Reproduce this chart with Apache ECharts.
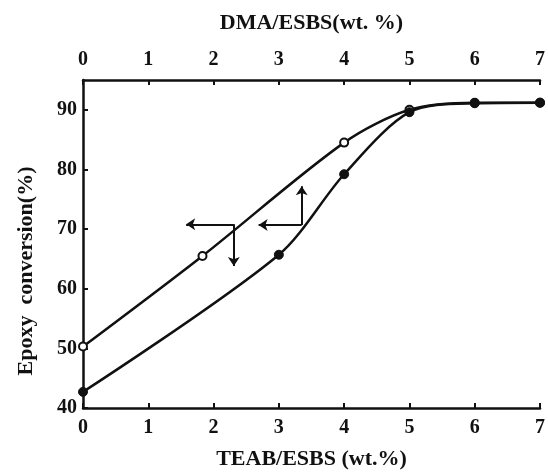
<!DOCTYPE html>
<html>
<head>
<meta charset="utf-8">
<script src="https://cdn.jsdelivr.net/npm/echarts@6/dist/echarts.min.js"></script>
<style>
  html, body { margin: 0; padding: 0; background: #fff; }
  #main { width: 548px; height: 475px; }
</style>
</head>
<body>
<div id="main"></div>
<script>
// 数据：两条曲线（空心点 TEAB，实心点 DMA）
const teabX = [0, 1.83, 4, 5, 6, 7];
const teabY = [50.3, 65.5, 84.5, 90, 91.2, 91.2];
const dmaX = [0, 3, 4, 5, 6, 7];
const dmaY = [42.7, 65.7, 79.2, 89.6, 91.1, 91.2];
const xTicks = [0, 1, 2, 3, 4, 5, 6, 7];
const yTicks = [40, 50, 60, 70, 80, 90];
// 指示箭头（数据坐标）：[拐点, 水平终点, 竖直终点]
const teabArrow = [[2.31, 70.8], [1.58, 70.8], [2.31, 63.8]];
const dmaArrow = [[3.35, 70.7], [2.69, 70.7], [3.35, 77.2]];

const font = 'Liberation Serif';
const black = '#111';

const myChart = echarts.init(document.getElementById('main'));

function pairs(xs, ys) {
  return xs.map((x, i) => [x, ys[i]]);
}
function arrowLines(a) {
  return [
    [{ coord: a[0] }, { coord: a[1] }],
    [{ coord: a[0] }, { coord: a[2] }]
  ];
}

const xCommon = {
  type: 'value',
  min: xTicks[0],
  max: xTicks[xTicks.length - 1],
  interval: 1,
  nameLocation: 'middle',
  axisLine: { show: true, onZero: false, lineStyle: { color: black, width: 2.5 } },
  axisTick: { inside: true, length: 5, lineStyle: { color: black, width: 2 } },
  axisLabel: { color: black, fontFamily: font, fontWeight: 'bold', fontSize: 20, margin: 10 },
  splitLine: { show: false },
  nameTextStyle: { color: black, fontFamily: font, fontWeight: 'bold', fontSize: 22 }
};

const option = {
  animation: false,
  backgroundColor: '#fff',
  grid: { left: 83, right: 5, top: 80, bottom: 65 },
  xAxis: [
    Object.assign({}, xCommon, {
      position: 'bottom',
      name: 'TEAB/ESBS (wt.%)',
      nameGap: 40
    }),
    Object.assign({}, xCommon, {
      position: 'top',
      name: 'DMA/ESBS(wt. %)',
      nameGap: 46
    })
  ],
  yAxis: {
    type: 'value',
    min: yTicks[0],
    max: 95,
    interval: 10,
    name: 'Epoxy  conversion(%)',
    nameLocation: 'middle',
    nameGap: 46,
    nameRotate: 90,
    nameTextStyle: {
      color: black, fontFamily: font, fontWeight: 'bold', fontSize: 22,
      padding: [0, 54, 0, 0]
    },
    axisLine: { show: true, lineStyle: { color: black, width: 2.5 } },
    axisTick: { inside: true, length: 5, lineStyle: { color: black, width: 2 } },
    axisLabel: {
      color: black, fontFamily: font, fontWeight: 'bold', fontSize: 20,
      margin: 6, showMaxLabel: false
    },
    splitLine: { show: false }
  },
  series: [
    {
      type: 'line',
      xAxisIndex: 0,
      data: pairs(teabX, teabY),
      smooth: 0.3,
      symbol: 'circle',
      symbolSize: 8,
      itemStyle: { color: '#fff', borderColor: black, borderWidth: 2 },
      lineStyle: { color: black, width: 2.5 },
      markLine: {
        silent: true,
        symbol: ['none', 'arrow'],
        symbolSize: 9,
        label: { show: false },
        lineStyle: { color: black, width: 2, type: 'solid' },
        data: arrowLines(teabArrow)
      }
    },
    {
      type: 'line',
      xAxisIndex: 1,
      data: pairs(dmaX, dmaY),
      smooth: 0.3,
      symbol: 'circle',
      symbolSize: 9,
      itemStyle: { color: black, borderColor: black, borderWidth: 1 },
      lineStyle: { color: black, width: 2.5 },
      markLine: {
        silent: true,
        symbol: ['none', 'arrow'],
        symbolSize: 9,
        label: { show: false },
        lineStyle: { color: black, width: 2, type: 'solid' },
        data: arrowLines(dmaArrow)
      }
    }
  ]
};

option && myChart.setOption(option);
</script>
</body>
</html>
